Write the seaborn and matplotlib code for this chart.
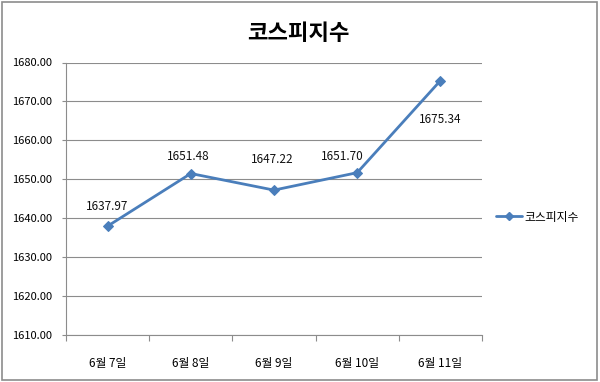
import numpy as np
import pandas as pd
import matplotlib
matplotlib.use("Agg")
import matplotlib.pyplot as plt
import seaborn as sns
from matplotlib.patches import Rectangle

# data
dates = ["6월 7일", "6월 8일", "6월 9일", "6월 10일", "6월 11일"]
kospi = [1637.97, 1651.48, 1647.22, 1651.70, 1675.34]
series_name = "코스피지수"
y_ticks = [1610, 1620, 1630, 1640, 1650, 1660, 1670, 1680]

# label offsets (points) -- placement only
label_offsets = [(0, 14), (-2, 12), (-1, 22), (-11, 12), (0, -28)]

sns.set_theme(style="white")
plt.rcParams["font.family"] = ["Noto Sans CJK KR", "DejaVu Sans"]
plt.rcParams["text.color"] = "black"
plt.rcParams["xtick.color"] = "black"
plt.rcParams["ytick.color"] = "black"

line_color = "#4A7EBB"
grid_color = "#8C8C8C"

df = pd.DataFrame({"pos": np.arange(len(dates)), "value": kospi, "series": series_name})

fig = plt.figure(figsize=(6, 3.82), dpi=100)
ax = fig.add_axes([66 / 600, 1 - 335 / 382, (482 - 66) / 600, (335 - 62.5) / 382])

sns.lineplot(data=df, x="pos", y="value", hue="series", palette=[line_color],
             marker="D", markersize=5.5, markeredgecolor=line_color,
             linewidth=2.0, ax=ax, legend=False)

for i, (v, off) in enumerate(zip(kospi, label_offsets)):
    ax.annotate(f"{v:.2f}", (i, v), xytext=off, textcoords="offset points",
                ha="center", va="center", fontsize=8.5, color="#111111")

ax.set_ylim(1610, 1680)
ax.set_yticks(y_ticks)
ax.set_yticklabels([f"{t:.2f}" for t in y_ticks])
ax.set_xlim(-0.5, len(dates) - 0.5)
ax.set_xticks(np.arange(-0.5, len(dates), 1.0))
ax.set_xticklabels([])
ax.set_xticks(np.arange(len(dates)), minor=True)
ax.set_xticklabels(dates, minor=True)
ax.tick_params(axis="x", which="major", bottom=True, length=4, width=0.8, color=grid_color)
ax.tick_params(axis="x", which="minor", bottom=True, length=0, pad=16, labelsize=8.5)
ax.tick_params(axis="y", left=True, length=3, width=0.8, color=grid_color, pad=7, labelsize=8)
ax.set_xlabel("")
ax.set_ylabel("")
ax.grid(axis="y", color=grid_color, linewidth=0.8)
ax.set_axisbelow(True)
for side in ["top", "right"]:
    ax.spines[side].set_visible(False)
for side in ["left", "bottom"]:
    ax.spines[side].set_color(grid_color)
    ax.spines[side].set_linewidth(0.8)

fig.suptitle(series_name, x=298 / 600, y=1 - 33 / 382, va="center",
             fontsize=16, fontweight="bold", color="black")

handle = plt.Line2D([], [], color=line_color, marker="D", markersize=4, linewidth=2.0)
fig.legend([handle], [series_name], loc="center left", bbox_to_anchor=(496 / 600, 1 - 217 / 382),
           frameon=False, fontsize=8.5, handlelength=2.2, handletextpad=0.2,
           borderpad=0, borderaxespad=0)

fig.patches.append(Rectangle((0.003, 0.004), 0.992, 0.992, transform=fig.transFigure,
                             fill=False, edgecolor="#8C8C8C", linewidth=1.2))

fig.savefig("out.png", dpi=100)
